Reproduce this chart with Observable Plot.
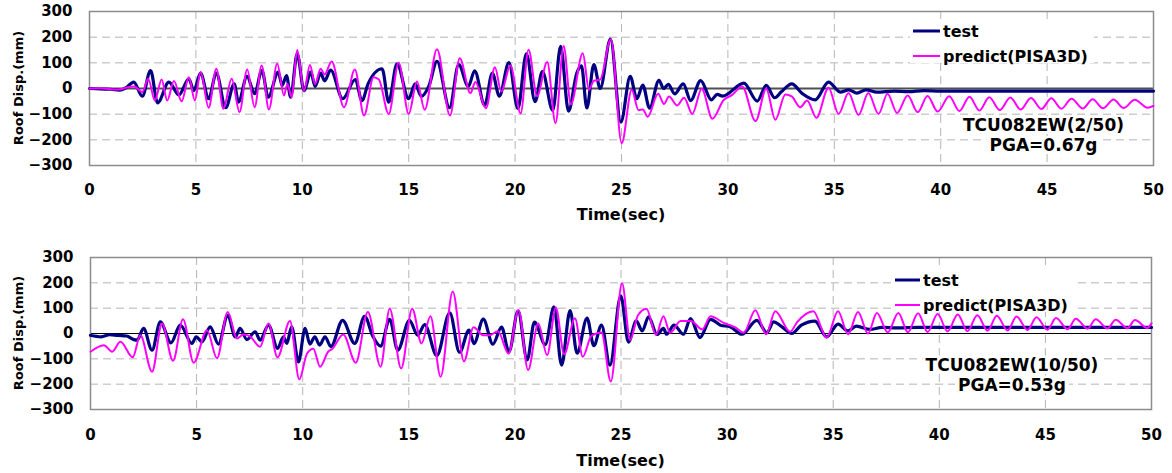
<!DOCTYPE html>
<html><head><meta charset="utf-8">
<script src="https://cdn.jsdelivr.net/npm/d3@7"></script>
<script src="https://cdn.jsdelivr.net/npm/@observablehq/plot@0.6"></script>
<style>
body{margin:0;background:#fff;}
#chart svg{display:block;}
</style>
</head><body><div id="chart"></div>
<script>
// ---------- data (time s, roof displacement mm) ----------
const yTicks = [-300, -200, -100, 0, 100, 200, 300];
const xTicks = [0, 5, 10, 15, 20, 25, 30, 35, 40, 45, 50];
const yGrid = [-200, -100, 100, 200];
const xGrid = [5, 10, 15, 20, 25, 30, 35, 40, 45];
const seriesNames = ["test", "predict(PISA3D)"];
const panel1Labels = ["TCU082EW(2/50)", "PGA=0.67g"];
const panel2Labels = ["TCU082EW(10/50)", "PGA=0.53g"];
const xTitle = "Time(sec)";
const yTitle = "Roof Disp.(mm)";

const top_test = [[0,0],[0.5,-2],[1.0,-3],[1.4,-6],[1.7,2],[2.08,25],[2.48,-30],[2.87,70],[3.2,-56],[3.73,25],[4.2,-25],[4.67,38],[4.9,-8],[5.22,60],[5.6,-40],[5.96,60],[6.4,-75],[6.8,18],[7.0,-53],[7.4,47],[7.76,-20],[8.1,70],[8.4,-34],[8.87,64],[9.05,12],[9.26,50],[9.45,-34],[9.76,135],[10.08,-8],[10.4,64],[10.6,8],[10.86,60],[11.05,30],[11.33,72],[11.9,-40],[12.49,35],[12.8,-47],[13.1,20],[13.75,77],[14.06,-53],[14.45,96],[15.0,-40],[15.3,18],[15.6,-31],[15.95,10],[16.33,106],[16.92,-75],[17.35,93],[17.8,8],[18.1,69],[18.57,-65],[18.93,60],[19.26,-30],[19.71,101],[20.13,-78],[20.53,135],[20.94,-51],[21.28,66],[21.77,-85],[22.14,164],[22.51,-88],[22.9,60],[23.12,88],[23.37,-76],[23.7,93],[24.0,0],[24.48,192],[24.97,-131],[25.41,47],[25.72,-40],[26.0,13],[26.32,-77],[26.76,32],[26.98,0],[27.2,16],[27.5,-21],[27.9,18],[28.25,-47],[28.72,31],[29.22,-44],[29.5,-23],[29.75,-30],[30.75,21],[31.38,-49],[31.8,12],[32.2,-36],[32.5,-14],[33.0,18],[33.5,-20],[34.1,-44],[34.73,25],[35.28,-14],[35.67,-5],[36.06,-18],[36.5,-5],[37.0,-14],[37.8,-10],[38.5,-12],[39.2,-8],[40,-10],[45,-10],[50,-10]];

const top_pred = [[0,0],[0.5,1],[1.0,-3],[1.4,-4],[1.8,5],[2.1,8],[2.48,-14],[2.76,38],[3.07,-47],[3.39,35],[3.65,-47],[3.97,29],[4.33,-50],[4.67,44],[4.95,-47],[5.22,64],[5.6,-75],[5.96,77],[6.29,-79],[6.68,38],[7.05,-92],[7.41,74],[7.76,-73],[8.09,90],[8.43,-82],[8.82,96],[9.14,-27],[9.3,18],[9.5,-34],[9.76,150],[10.08,-10],[10.36,92],[10.6,18],[10.86,77],[11.05,55],[11.38,105],[11.96,-73],[12.47,74],[12.9,-105],[13.35,44],[13.6,35],[14.06,-99],[14.53,100],[15.0,-99],[15.39,27],[15.75,-83],[16.33,153],[16.94,-105],[17.4,118],[17.9,-18],[18.13,25],[18.63,-77],[19.05,83],[19.35,-12],[19.78,90],[20.26,-97],[20.63,151],[21.03,-30],[21.51,103],[21.9,-135],[22.28,166],[22.62,-61],[23.18,137],[23.47,-4],[23.7,30],[24.0,35],[24.5,192],[25.01,-213],[25.48,-5],[25.8,-84],[26.0,-82],[26.23,-110],[26.72,-20],[27.0,-60],[27.23,-31],[27.62,-66],[27.94,-36],[28.33,-99],[28.77,-1],[29.27,-118],[29.8,-45],[30.2,-25],[30.67,8],[31.3,-127],[31.8,-1],[32.23,-122],[32.7,-23],[33.0,-31],[33.4,-73],[33.72,-47],[34.16,-114],[34.73,3],[35.2,-99],[35.67,-18],[36.14,-103],[36.6,-18],[37.08,-99],[37.5,-20],[37.95,-95],[38.45,-27],[38.92,-92],[39.38,-29],[39.86,-90],[40.4,-30],[40.88,-88],[41.35,-32],[41.82,-86],[42.28,-34],[42.78,-84],[43.27,-35],[43.76,-82],[44.24,-37],[44.73,-80],[45.2,-38],[45.67,-79],[46.15,-40],[46.68,-78],[47.14,-42],[47.63,-77],[48.12,-43],[48.6,-76],[49.12,-44],[49.72,-75],[50,-68]];

const bot_test = [[0,-7],[0.5,-13],[0.9,-5],[1.3,-8],[1.7,-10],[2.04,-24],[2.2,-26],[2.5,20],[2.9,-66],[3.29,46],[3.79,-37],[4.23,33],[4.78,-39],[4.98,-13],[5.25,-33],[5.64,26],[6.03,-42],[6.47,72],[6.82,-13],[7.05,20],[7.37,-24],[7.76,7],[7.99,-26],[8.39,33],[8.82,-59],[9.09,-13],[9.25,-39],[9.48,26],[9.8,-112],[10.11,20],[10.34,-42],[10.57,-13],[10.8,-46],[11.05,-13],[11.33,-52],[11.88,52],[12.45,-39],[12.92,68],[13.3,-10],[13.67,-50],[14.1,56],[14.48,-66],[15.03,52],[15.42,-7],[15.75,35],[16.32,-87],[16.93,82],[17.39,-74],[17.84,13],[18.07,-40],[18.51,57],[18.96,-42],[19.37,25],[19.72,-72],[20.15,88],[20.58,-104],[20.92,45],[21.43,-44],[21.84,105],[22.2,-125],[22.6,90],[22.93,-78],[23.4,61],[23.72,-48],[24.08,33],[24.48,-125],[24.99,149],[25.35,-34],[25.72,50],[26.0,10],[26.3,66],[26.7,-4],[27.0,20],[27.15,-3],[27.5,33],[27.94,-3],[28.28,59],[28.72,-16],[29.22,56],[29.69,33],[30.16,26],[30.7,-3],[31.4,52],[31.88,4],[32.19,46],[32.6,25],[33.05,0],[33.5,33],[34.14,49],[34.69,-13],[35.23,37],[35.7,10],[36.09,29],[36.72,16],[37.3,24],[38,22],[39,24],[40,24],[45,24],[50,24]];

const bot_pred = [[0,-72],[0.63,-46],[1.02,-72],[1.41,-33],[1.99,-94],[2.35,-7],[2.9,-151],[3.37,39],[3.89,-108],[4.36,56],[4.86,-115],[5.49,13],[5.96,-98],[6.47,85],[6.9,-20],[7.2,-4],[7.5,-10],[7.99,-52],[8.39,39],[8.81,-94],[9.4,49],[9.84,-181],[10.2,-80],[10.5,-60],[10.82,-131],[11.2,-72],[11.4,-60],[11.91,-4],[12.5,-115],[13.07,85],[13.67,-131],[14.1,98],[14.64,-138],[15.16,98],[15.6,-39],[16.02,68],[16.5,-171],[17.07,166],[17.6,-110],[18.05,25],[18.5,-7],[18.8,-7],[19.2,9],[19.7,-79],[20.17,93],[20.62,-144],[21.1,39],[21.52,-85],[21.93,103],[22.32,-82],[22.83,60],[23.2,-92],[23.6,-10],[24.08,4],[24.52,-189],[25.05,198],[25.43,-26],[25.8,72],[26.2,98],[26.65,-5],[27.0,68],[27.31,3],[27.81,49],[28.3,49],[28.83,16],[29.22,68],[29.84,42],[30.39,24],[30.78,3],[31.33,92],[31.84,-3],[32.27,88],[32.97,7],[33.3,45],[34.06,88],[34.69,-16],[35.23,88],[35.7,-3],[36.17,85],[36.64,0],[37.06,81],[37.57,5],[38.07,81],[38.52,5],[39.0,80],[39.45,6],[39.92,77],[40.39,8],[40.87,75],[41.33,9],[41.79,72],[42.28,11],[42.71,70],[43.22,12],[43.64,67],[44.16,14],[44.58,64],[45.1,15],[45.5,61],[46.05,17],[46.43,58],[46.99,19],[47.37,56],[47.93,20],[48.31,54],[48.87,21],[49.22,53],[49.8,22],[50,40]];

// ---------- rendering ----------
const FONT = "'DejaVu Sans', 'Liberation Sans', sans-serif";
const NAVY = "#000080", MAGENTA = "#ff00ff";
const toRows = arr => arr.map(([t, v]) => ({t, v}));

const measureCtx = document.createElement("canvas").getContext("2d");
function textWidth(text, size) {
  measureCtx.font = `bold ${size}px 'DejaVu Sans'`;
  return measureCtx.measureText(text).width;
}

function overlay(cfg) {
  return (index, scales, values, dims) => {
    const {width, height, marginTop, marginRight, marginBottom, marginLeft} = dims;
    const R = width - marginRight, T = marginTop, B = height - marginBottom, L = marginLeft;
    const g = d3.create("svg:g")
      .attr("font-family", FONT).attr("font-weight", "bold").attr("fill", "#000")
      .attr("text-anchor", "start");

    // legend box
    const lx0 = R + cfg.legX0, lx1 = R + cfg.legX1, tx = R + cfg.legTx;
    const ly = cfg.legY.map(d => T + d);
    const wmax = Math.max(...seriesNames.map(s => textWidth(s, 16)));
    g.append("rect")
      .attr("x", lx0 - 3).attr("y", ly[0] - 12)
      .attr("width", tx + wmax + 6 - (lx0 - 3)).attr("height", ly[1] - ly[0] + 19)
      .attr("fill", "#fff");
    const colors = [NAVY, MAGENTA], widths = [3, 2];
    seriesNames.forEach((s, i) => {
      g.append("line").attr("x1", lx0).attr("x2", lx1).attr("y1", ly[i]).attr("y2", ly[i])
        .attr("stroke", colors[i]).attr("stroke-width", widths[i]);
      g.append("text").attr("x", tx).attr("y", ly[i]).attr("dy", "0.36em")
        .attr("text-anchor", "start").attr("font-size", 16).text(s);
    });

    // annotation
    cfg.labels.forEach((s, i) => {
      const cx = R + cfg.annX, cy = T + cfg.annY[i];
      const w = textWidth(s, 17);
      g.append("rect").attr("x", cx - w / 2 - 3).attr("y", cy - 9).attr("width", w + 6).attr("height", 18)
        .attr("fill", "#fff");
      g.append("text").attr("x", cx).attr("y", cy).attr("dy", "0.36em")
        .attr("text-anchor", "middle").attr("font-size", 17).text(s);
    });

    // axis titles
    g.append("text").attr("x", (L + R) / 2).attr("y", B + cfg.xTitleDy).attr("dy", "0.36em")
      .attr("text-anchor", "middle").attr("font-size", 16).text(xTitle);
    g.append("text")
      .attr("transform", `translate(${cfg.yTitleX},${(T + B) / 2}) rotate(-90)`)
      .attr("dy", "0.32em").attr("text-anchor", "middle").attr("font-size", 13).text(yTitle);
    return g.node();
  };
}

function panel(cfg) {
  return Plot.plot({
    width: 1172, height: cfg.height,
    marginTop: cfg.mt, marginBottom: cfg.mb, marginLeft: cfg.ml, marginRight: cfg.mr,
    style: {fontFamily: FONT, fontSize: "15px", fontWeight: "bold", color: "#000", background: "#fff", overflow: "visible"},
    x: {domain: [0, 50], ticks: xTicks, tickSize: 0, tickPadding: cfg.xPad, label: null},
    y: {domain: [-300, 300], ticks: yTicks, tickSize: 0, tickPadding: 17, label: null},
    marks: [
      Plot.ruleY(yGrid, {stroke: "#b4b4b4", strokeDasharray: "8,5"}),
      Plot.ruleX(xGrid, {stroke: "#b4b4b4", strokeDasharray: "8,5"}),
      Plot.ruleY([0], {stroke: cfg.zeroColor, strokeWidth: cfg.zeroWidth}),
      Plot.frame({stroke: "#8c8c8c", strokeWidth: 1.5}),
      Plot.line(toRows(cfg.test), {x: "t", y: "v", stroke: NAVY, strokeWidth: 3.2, curve: "monotone-x"}),
      Plot.line(toRows(cfg.pred), {x: "t", y: "v", stroke: MAGENTA, strokeWidth: 2, curve: "monotone-x"}),
      overlay(cfg)
    ]
  });
}

const chart = document.getElementById("chart");
chart.append(panel({
  height: 236, mt: 11, mb: 71, ml: 89, mr: 19, xPad: 19,
  test: top_test, pred: top_pred, labels: panel1Labels,
  zeroColor: "#505050", zeroWidth: 1.8,
  legX0: -240, legX1: -213, legTx: -210, legY: [20, 45],
  annX: -109.5, annY: [114, 134], xTitleDy: 49, yTitleX: 18.5
}));
chart.append(panel({
  height: 237, mt: 21, mb: 64, ml: 90, mr: 21, xPad: 20,
  test: bot_test, pred: bot_pred, labels: panel2Labels,
  zeroColor: "#000", zeroWidth: 1.2,
  legX0: -256, legX1: -231, legTx: -228, legY: [23, 48],
  annX: -139, annY: [107.5, 127.5], xTitleDy: 51, yTitleX: 18.5
}));
</script>
</body></html>
